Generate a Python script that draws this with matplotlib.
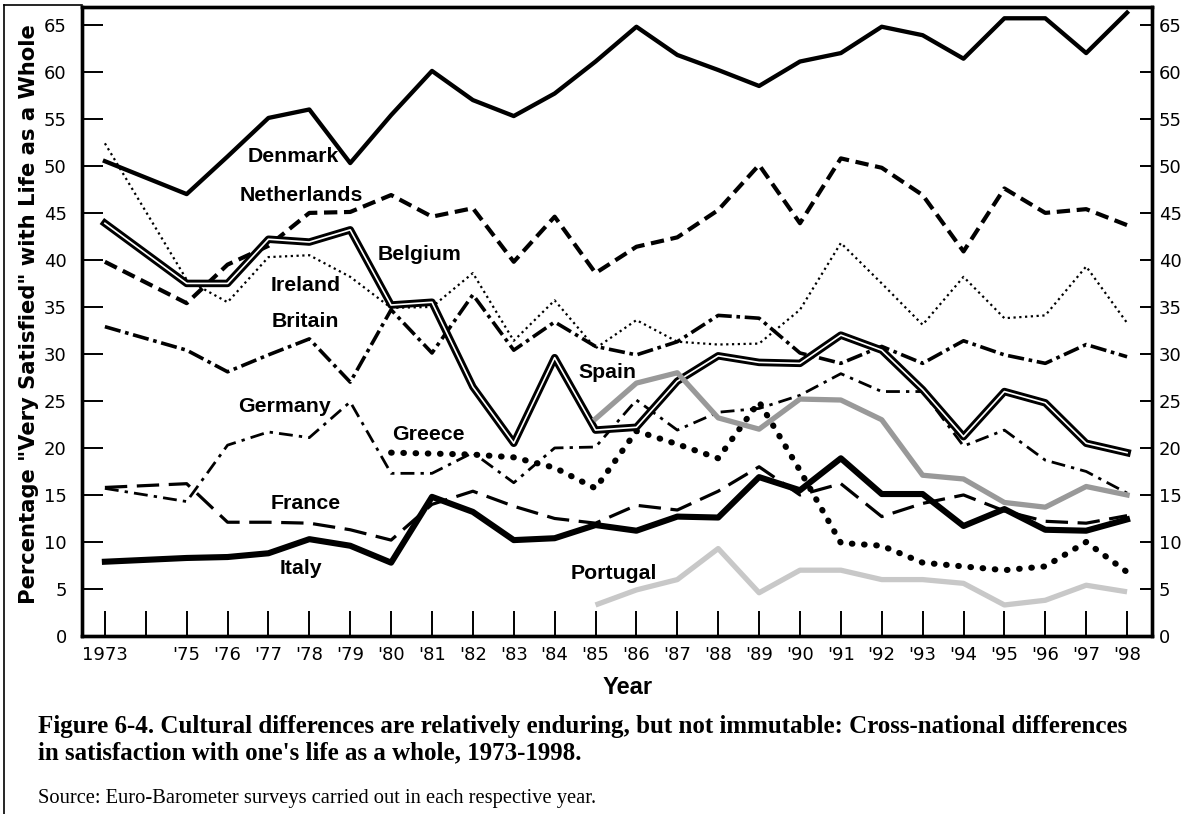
import numpy as np
import matplotlib
matplotlib.use('Agg')
from matplotlib import pyplot as plt
from matplotlib.lines import Line2D

# survey years (no survey in 1974)
years = [1973] + list(range(1975, 1999))
years_gr = list(range(1980, 1999))
years_ib = list(range(1985, 1999))

denmark = [50.5, 47.0, 51.0, 55.1, 56.0, 50.3, 55.4, 60.1, 57.0, 55.3, 57.7, 61.1, 64.8,
           61.8, 60.2, 58.5, 61.1, 62.0, 64.8, 63.9, 61.4, 65.7, 65.7, 62.0, 66.3]
netherlands = [39.8, 35.4, 39.5, 41.5, 45.0, 45.1, 46.9, 44.6, 45.5, 39.8, 44.6, 38.6, 41.4,
               42.4, 45.3, 50.1, 43.9, 50.8, 49.8, 46.9, 40.9, 47.6, 45.0, 45.4, 43.7]
belgium = [43.9, 37.5, 37.5, 42.2, 41.9, 43.2, 35.2, 35.5, 26.5, 20.5, 29.6, 21.9, 22.2,
           27.1, 29.8, 29.1, 29.0, 32.0, 30.4, 26.2, 21.2, 26.0, 24.8, 20.5, 19.5]
ireland = [52.4, 37.9, 35.5, 40.3, 40.5, 38.2, 34.9, 35.0, 38.6, 31.4, 35.7, 30.6, 33.6,
           31.3, 31.0, 31.1, 34.7, 41.8, 37.5, 33.1, 38.2, 33.8, 34.1, 39.3, 33.3]
britain = [32.9, 30.4, 28.1, 29.9, 31.6, 27.0, 34.7, 30.1, 36.3, 30.4, 33.4, 30.8, 29.9,
           31.3, 34.1, 33.8, 30.1, 29.0, 30.8, 29.0, 31.4, 29.9, 29.0, 31.0, 29.7]
germany = [15.7, 14.3, 20.3, 21.7, 21.1, 24.9, 17.3, 17.3, 19.5, 16.3, 20.0, 20.1, 25.1,
           21.9, 23.8, 24.2, 25.6, 27.9, 26.0, 26.0, 20.2, 21.9, 18.7, 17.5, 15.2]
france = [15.8, 16.2, 12.1, 12.1, 12.0, 11.3, 10.2, 14.0, 15.4, 13.8, 12.5, 12.0, 13.9,
          13.4, 15.4, 18.0, 15.0, 16.2, 12.7, 14.1, 15.0, 13.3, 12.2, 12.0, 12.8]
italy = [7.9, 8.3, 8.4, 8.8, 10.3, 9.6, 7.8, 14.8, 13.2, 10.2, 10.4, 11.8, 11.2,
         12.7, 12.6, 16.9, 15.5, 18.9, 15.1, 15.1, 11.7, 13.5, 11.3, 11.2, 12.4]
greece = [19.5, 19.4, 19.3, 19.0, 17.9, 15.7, 21.8, 20.4, 18.9, 24.9, 17.6, 9.9, 9.6,
          7.8, 7.4, 7.0, 7.4, 10.0, 6.8]
spain = [23.1, 26.9, 28.0, 23.2, 22.0, 25.2, 25.1, 23.0, 17.1, 16.7, 14.2, 13.7, 15.9, 15.0]
portugal = [3.3, 4.9, 6.0, 9.3, 4.6, 7.0, 7.0, 6.0, 6.0, 5.6, 3.3, 3.8, 5.4, 4.7]

xtick_years = [1973, 1974] + list(range(1975, 1999))
xtick_labels = ['1973', ''] + ["'{:02d}".format(y % 100) for y in range(1975, 1999)]
yticks = list(range(0, 70, 5))

W, H = 1185, 814
fig = plt.figure(figsize=(W / 100, H / 100), dpi=100)
ax = fig.add_axes([82 / W, 1 - 636 / H, (1152 - 82) / W, (636 - 7) / H])

ax.set_xlim(1972.44, 1998.61)
ax.set_ylim(0, 66.9)

k = 'black'
# grey lines first so the black ones sit on top, Spain goes over everything
ax.plot(years_ib, portugal, color='#c8c8c8', lw=3.8, solid_capstyle='butt', zorder=2)
ax.plot(years, denmark, color=k, lw=3.1, zorder=3)
ax.plot(years, netherlands, color=k, lw=3.0, dashes=(3.2, 1.6), zorder=3)
ax.plot(years, ireland, color=k, lw=1.6, dashes=(1.0, 1.6), zorder=3)
ax.plot(years, britain, color=k, lw=2.6, dashes=(4.5, 1.3, 1.0, 1.3), zorder=3)
ax.plot(years, germany, color=k, lw=2.0, dashes=(5, 2.2, 1.2, 2.2), zorder=3)
ax.plot(years, france, color=k, lw=2.3, dashes=(7, 3), zorder=3)
ax.plot(years, italy, color=k, lw=4.4, zorder=3)
ax.plot(years_gr, greece, color=k, lw=4.4, dashes=(0.1, 1.9), dash_capstyle='round', zorder=3)
# Belgium: black line with a thin white core
ax.plot(years, belgium, color=k, lw=5.4, zorder=4)
ax.plot(years, belgium, color='white', lw=1.2, zorder=4)
ax.plot(years_ib, spain, color='#999999', lw=3.8, zorder=5)

# country labels
lab = dict(fontsize=15.3, fontweight='bold', family='Liberation Sans',
           ha='center', va='center', zorder=6)
names = ['Denmark', 'Netherlands', 'Belgium', 'Ireland', 'Britain', 'Germany',
         'Greece', 'France', 'Italy', 'Spain', 'Portugal']
label_x = [1977.6, 1977.8, 1980.7, 1977.9, 1977.9, 1977.4, 1980.9, 1977.9, 1977.8, 1985.3, 1985.45]
label_y = [51.0, 46.9, 40.6, 37.3, 33.4, 24.4, 21.4, 14.1, 7.2, 28.0, 6.7]
for name, lx, ly in zip(names, label_x, label_y):
    ax.text(lx, ly, name, **lab)

tick_font = dict(family='DejaVu Sans', size=13)
ax.set_yticks(yticks)
ax.set_yticklabels([str(v) for v in yticks], **tick_font)
ax.set_xticks(xtick_years)
ax.set_xticklabels(xtick_labels, **tick_font)
ax.tick_params(axis='y', direction='in', length=15, width=1.4, pad=11)
ax.tick_params(axis='x', direction='in', length=18, width=1.4, pad=7)

ax2 = ax.twinx()
ax2.set_ylim(ax.get_ylim())
ax2.set_yticks(yticks)
ax2.set_yticklabels([str(v) for v in yticks], **tick_font)
ax2.tick_params(axis='y', direction='in', length=9, width=1.4, pad=5)

for a in (ax, ax2):
    for s in a.spines.values():
        s.set_linewidth(2.4)

ax.set_ylabel('Percentage "Very Satisfied" with Life as a Whole', fontsize=15.2,
              fontweight='bold', family='DejaVu Sans')
ax.yaxis.set_label_coords(-43 / 1070, 0.512)
ax.set_xlabel('Year', fontsize=17, fontweight='bold', family='Liberation Sans')
ax.xaxis.set_label_coords(0.51, -40 / 629)

# outer frame on the left and top
fig.add_artist(Line2D([4 / W, 4 / W], [0, 1 - 5 / H], color=k, lw=1.2))
fig.add_artist(Line2D([4 / W, 82 / W], [1 - 5 / H, 1 - 5 / H], color=k, lw=1.2))

cap = dict(family='Liberation Serif', fontweight='bold', fontsize=18, va='center')
fig.text(38 / W, 1 - 727 / H,
         'Figure 6-4. Cultural differences are relatively enduring, but not immutable: '
         'Cross-national differences', **cap)
fig.text(38 / W, 1 - 753 / H,
         "in satisfaction with one's life as a whole, 1973-1998.", **cap)
fig.text(38 / W, 1 - 799 / H,
         'Source: Euro-Barometer surveys carried out in each respective year.',
         family='Liberation Serif', fontsize=14.8, va='center')

fig.savefig('out.png', dpi=100)
